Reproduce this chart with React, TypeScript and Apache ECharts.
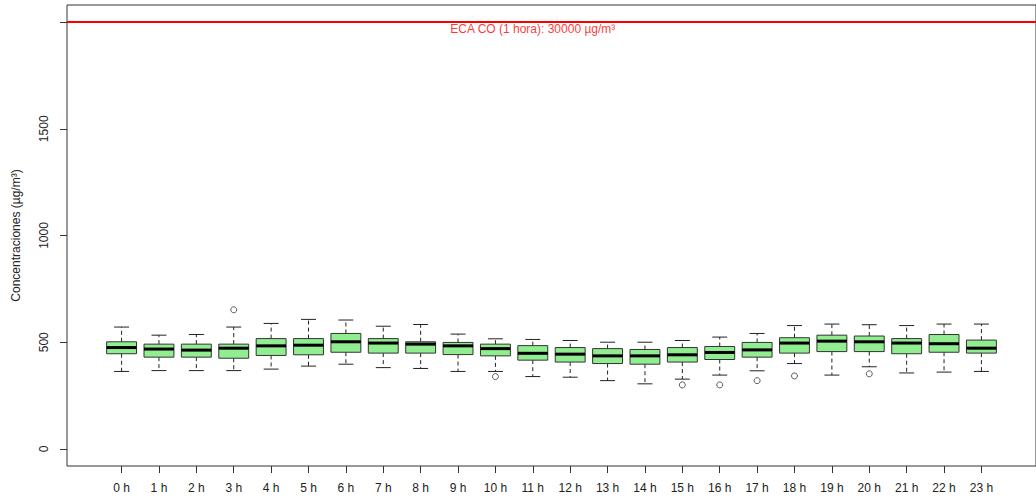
import React, { useEffect, useRef } from "react";
import * as echarts from "echarts";

// Hour labels (categories)
const hours = [
  "0 h", "1 h", "2 h", "3 h", "4 h", "5 h", "6 h", "7 h", "8 h", "9 h", "10 h", "11 h",
  "12 h", "13 h", "14 h", "15 h", "16 h", "17 h", "18 h", "19 h", "20 h", "21 h", "22 h", "23 h",
];
// Box statistics per hour (µg/m³)
const whiskerLow = [363, 367, 367, 367, 374, 388, 397, 381, 377, 363, 363, 339, 336, 320, 305, 327, 346, 366, 400, 346, 385, 356, 360, 363];
const q1 = [446, 430, 430, 425, 438, 441, 453, 449, 449, 442, 436, 416, 407, 400, 397, 407, 419, 430, 449, 456, 456, 446, 453, 449];
const median = [475, 468, 463, 472, 483, 486, 502, 496, 491, 483, 470, 448, 444, 436, 436, 441, 452, 464, 496, 505, 502, 496, 493, 472];
const q3 = [502, 491, 491, 491, 517, 517, 541, 517, 502, 499, 491, 484, 475, 470, 466, 475, 480, 499, 521, 533, 529, 517, 536, 510];
const whiskerHigh = [571, 533, 536, 571, 588, 607, 604, 575, 583, 538, 516, 513, 508, 500, 500, 508, 524, 541, 578, 585, 582, 578, 585, 585];
// Outliers: hour index and value
const outlierHour = [3, 10, 15, 16, 17, 18, 20];
const outlierValue = [652, 339, 300, 300, 320, 342, 352];
// Reference limit line
const limitValue = 2000;
const limitLabel = "ECA CO (1 hora): 30000 µg/m³";
const limitLabelPos = 12;
const yTicks = [0, 500, 1000, 1500, 2000];
const yLabels = [0, 500, 1000, 1500];

export default function App() {
  const ref = useRef<HTMLDivElement>(null);

  useEffect(() => {
    if (!ref.current) return;
    const chart = echarts.init(ref.current, null, { renderer: "svg" });
    const positions = hours.map((_, i) => i + 1);
    const boxData = hours.map((_, i) => [
      i + 1, whiskerLow[i], q1[i], median[i], q3[i], whiskerHigh[i],
    ]);
    const outData = outlierHour.map((h, i) => [h + 1, outlierValue[i]]);
    const font = "Liberation Sans, Arial, sans-serif";
    const txt = "#222";

    chart.setOption({
      animation: false,
      grid: {
        left: 67, top: 5, width: 970, height: 461,
        show: true, borderColor: "#333", borderWidth: 1,
        backgroundColor: "transparent",
      },
      xAxis: {
        type: "value",
        min: -0.46,
        max: 25.46,
        axisLine: { show: false, onZero: false },
        splitLine: { show: false },
        axisTick: {
          show: true, length: 7, inside: false,
          customValues: positions,
          lineStyle: { color: "#333" },
        },
        axisLabel: {
          show: true,
          customValues: positions,
          formatter: (v: number) => hours[Math.round(v) - 1] ?? "",
          margin: 16,
          fontSize: 12,
          fontFamily: font,
          color: txt,
        },
      },
      yAxis: {
        type: "value",
        min: -80,
        max: 2080,
        name: "Concentraciones (µg/m³)",
        nameLocation: "middle",
        nameGap: 45,
        nameTextStyle: { fontSize: 12, fontFamily: font, color: txt },
        axisLine: { show: false, onZero: false },
        splitLine: { show: false },
        axisTick: {
          show: true, length: 7, inside: false,
          customValues: yTicks,
          lineStyle: { color: "#333" },
        },
        axisLabel: {
          show: true,
          customValues: yLabels,
          formatter: (v: number) => String(v),
          rotate: 90,
          margin: 17,
          fontSize: 12,
          fontFamily: font,
          color: txt,
        },
      },
      series: [
        {
          type: "custom",
          data: boxData,
          encode: { x: 0, y: [1, 2, 3, 4, 5] },
          renderItem: (params: any, api: any) => {
            const x = api.value(0);
            const lo = api.coord([x, api.value(1)]);
            const b = api.coord([x, api.value(2)]);
            const m = api.coord([x, api.value(3)]);
            const t = api.coord([x, api.value(4)]);
            const hi = api.coord([x, api.value(5)]);
            const bw = api.size([0.8, 0])[0];
            const cw = api.size([0.4, 0])[0];
            const cx = lo[0];
            const dash = { stroke: "#222", lineWidth: 1, lineDash: [4, 3] };
            const solid = { stroke: "#222", lineWidth: 1 };
            return {
              type: "group",
              children: [
                { type: "line", shape: { x1: cx, y1: t[1], x2: cx, y2: hi[1] }, style: dash },
                { type: "line", shape: { x1: cx, y1: b[1], x2: cx, y2: lo[1] }, style: dash },
                { type: "line", shape: { x1: cx - cw / 2, y1: hi[1], x2: cx + cw / 2, y2: hi[1] }, style: solid },
                { type: "line", shape: { x1: cx - cw / 2, y1: lo[1], x2: cx + cw / 2, y2: lo[1] }, style: solid },
                {
                  type: "rect",
                  shape: { x: cx - bw / 2, y: t[1], width: bw, height: b[1] - t[1] },
                  style: { fill: "#90EE90", stroke: "#333", lineWidth: 1 },
                },
                {
                  type: "line",
                  shape: { x1: cx - bw / 2, y1: m[1], x2: cx + bw / 2, y2: m[1] },
                  style: { stroke: "#000", lineWidth: 3 },
                },
              ],
            };
          },
          markLine: {
            silent: true,
            symbol: ["none", "none"],
            label: { show: false },
            lineStyle: { color: "#FF0000", width: 2, type: "solid" },
            data: [{ yAxis: limitValue }],
          },
        },
        {
          type: "scatter",
          data: outData,
          symbol: "circle",
          symbolSize: 6,
          itemStyle: { color: "#fff", borderColor: "#333", borderWidth: 1 },
        },
        {
          type: "scatter",
          data: [[limitLabelPos, limitValue]],
          symbol: "circle",
          symbolSize: 1,
          itemStyle: { color: "rgba(0,0,0,0)" },
          label: {
            show: true,
            position: "bottom",
            distance: 0,
            formatter: limitLabel,
            color: "#FF0000",
            fontSize: 12,
            fontFamily: font,
          },
        },
      ],
    });
    return () => chart.dispose();
  }, []);

  return (
    <div
      ref={ref}
      style={{ position: "absolute", left: 0, top: 0, width: 1036, height: 502, background: "#fff" }}
    />
  );
}
